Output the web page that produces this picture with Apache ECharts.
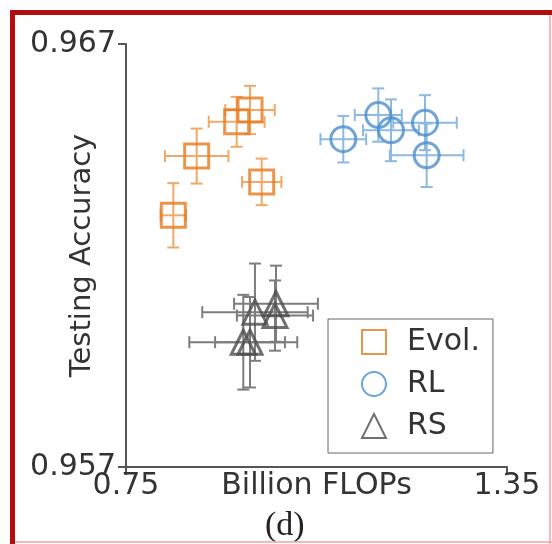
<!DOCTYPE html>
<html>
<head>
<meta charset="utf-8">
<script src="https://cdn.jsdelivr.net/npm/echarts@6/dist/echarts.min.js"></script>
<style>
  html, body { margin: 0; padding: 0; background: #fff; }
  #chart { width: 552px; height: 544px; }
</style>
</head>
<body>
<div id="chart"></div>
<script>
// Evol. (squares)
const evolX = [0.8245, 0.8613, 0.9243, 0.9453, 0.9637];
const evolY = [0.96295, 0.96435, 0.96516, 0.96544, 0.96374];
const evolXErr = [0.020, 0.050, 0.044, 0.039, 0.031];
const evolYErr = [0.00076, 0.00065, 0.00059, 0.00057, 0.00055];

// RL (circles)
const rlX = [1.0922, 1.1473, 1.1673, 1.2209, 1.2235];
const rlY = [0.96475, 0.96532, 0.96496, 0.96514, 0.96437];
const rlXErr = [0.036, 0.037, 0.044, 0.050, 0.058];
const rlYErr = [0.00055, 0.00063, 0.00073, 0.00065, 0.00075];

// RS (triangles)
const rsX = [0.9531, 0.9862, 0.9846, 0.9347, 0.9453];
const rsY = [0.96066, 0.96086, 0.96058, 0.95995, 0.95995];
const rsXErr = [0.083, 0.066, 0.060, 0.085, 0.055];
const rsYErr = [0.00115, 0.00090, 0.00083, 0.00112, 0.00107];

const xTicks = [0.75, 1.35];
const yTicks = [0.957, 0.967];

const chart = echarts.init(document.getElementById('chart'));

function rows(xs, ys, exs, eys) {
  return xs.map((x, i) => [x, ys[i], exs[i], eys[i]]);
}

// error bars drawn through the axis scales
function errRenderer(color) {
  return function (params, api) {
    const x = api.value(0), y = api.value(1);
    const ex = api.value(2), ey = api.value(3);
    const l = api.coord([x - ex, y]), r = api.coord([x + ex, y]);
    const t = api.coord([x, y + ey]), b = api.coord([x, y - ey]);
    const cap = 6;
    const style = { stroke: color, lineWidth: 2 };
    const seg = (x1, y1, x2, y2) => ({
      type: 'line', shape: { x1, y1, x2, y2 }, style
    });
    return {
      type: 'group',
      children: [
        seg(l[0], l[1], r[0], r[1]),
        seg(l[0], l[1] - cap, l[0], l[1] + cap),
        seg(r[0], r[1] - cap, r[0], r[1] + cap),
        seg(t[0], t[1], b[0], b[1]),
        seg(t[0] - cap, t[1], t[0] + cap, t[1]),
        seg(b[0] - cap, b[1], b[0] + cap, b[1])
      ]
    };
  };
}

const orange = '#e57a1f', orangeErr = '#f2a867';
const blue = '#4a8fcc', blueErr = '#8db9e2';
const gray = '#4d4d4d', grayErr = '#7d7d7d';

const font = 'DejaVu Sans';

const option = {
  animation: false,
  backgroundColor: '#fff',
  grid: { left: 126, top: 44, right: 45, bottom: 77, containLabel: false, outerBoundsMode: 'none' },
  xAxis: {
    type: 'value',
    min: 0.75,
    max: 1.35,
    name: 'Billion FLOPs',
    nameLocation: 'middle',
    nameGap: 4,
    nameMoveOverlap: false,
    nameTextStyle: { fontFamily: font, fontSize: 30, color: '#333', verticalAlign: 'top' },
    axisLine: { lineStyle: { color: '#555', width: 2 } },
    axisTick: { show: true, length: 8, customValues: xTicks, lineStyle: { color: '#555', width: 2 } },
    axisLabel: { customValues: xTicks, margin: 4, fontFamily: font, fontSize: 30, color: '#333',
      formatter: v => v.toFixed(2) },
    splitLine: { show: false }
  },
  yAxis: {
    type: 'value',
    min: 0.957,
    max: 0.967,
    name: 'Testing Accuracy',
    nameLocation: 'middle',
    nameGap: 29,
    nameMoveOverlap: false,
    nameTextStyle: { fontFamily: font, fontSize: 29, color: '#333' },
    axisLine: { show: true, lineStyle: { color: '#555', width: 2 } },
    axisTick: { show: true, length: 8, customValues: yTicks, lineStyle: { color: '#555', width: 2 } },
    axisLabel: { customValues: yTicks, margin: 10, fontFamily: font, fontSize: 30, color: '#333',
      formatter: v => v.toFixed(3) },
    splitLine: { show: false }
  },
  legend: {
    orient: 'vertical',
    left: 328,
    top: 319,
    padding: [8, 13, 12, 33],
    itemGap: 12,
    itemWidth: 24,
    itemHeight: 24,
    borderColor: '#666',
    borderWidth: 1,
    backgroundColor: '#fff',
    textStyle: { fontFamily: font, fontSize: 30, color: '#333', lineHeight: 28, padding: [0, 0, 0, 16] },
    data: ['Evol.', 'RL', 'RS']
  },
  series: [
    { type: 'custom', name: 'evolErr', renderItem: errRenderer(orangeErr),
      data: rows(evolX, evolY, evolXErr, evolYErr), encode: { x: 0, y: 1 }, z: 1 },
    { type: 'custom', name: 'rlErr', renderItem: errRenderer(blueErr),
      data: rows(rlX, rlY, rlXErr, rlYErr), encode: { x: 0, y: 1 }, z: 1 },
    { type: 'custom', name: 'rsErr', renderItem: errRenderer(grayErr),
      data: rows(rsX, rsY, rsXErr, rsYErr), encode: { x: 0, y: 1 }, z: 1 },
    { type: 'scatter', name: 'Evol.', symbol: 'rect', symbolSize: 24, z: 3,
      itemStyle: { color: 'rgba(255,255,255,0)', borderColor: orange, borderWidth: 3 },
      data: evolX.map((x, i) => [x, evolY[i]]) },
    { type: 'scatter', name: 'RL', symbol: 'circle', symbolSize: 25, z: 3,
      itemStyle: { color: 'rgba(255,255,255,0)', borderColor: blue, borderWidth: 3 },
      data: rlX.map((x, i) => [x, rlY[i]]) },
    { type: 'scatter', name: 'RS', symbol: 'triangle', symbolSize: 24, z: 3,
      itemStyle: { color: 'rgba(255,255,255,0)', borderColor: gray, borderWidth: 3 },
      data: rsX.map((x, i) => [x, rsY[i]]) }
  ],
  graphic: [
    { type: 'text', left: 285 - 20, top: 509,
      style: { text: '(d)', font: '34px "Liberation Serif"', fill: '#222' } },
    // frame around the panel
    { type: 'rect', shape: { x: 10, y: 10, width: 5, height: 534 }, style: { fill: '#b30d0d' }, silent: true },
    { type: 'rect', shape: { x: 10, y: 10, width: 542, height: 5 }, style: { fill: '#b30d0d' }, silent: true },
    { type: 'line', shape: { x1: 550, y1: 15, x2: 550, y2: 544 }, style: { stroke: '#f3a0a0', lineWidth: 1.5 }, silent: true },
    { type: 'line', shape: { x1: 15, y1: 542, x2: 552, y2: 542 }, style: { stroke: '#f3a0a0', lineWidth: 1.5 }, silent: true }
  ]
};

chart.setOption(option);
</script>
</body>
</html>
